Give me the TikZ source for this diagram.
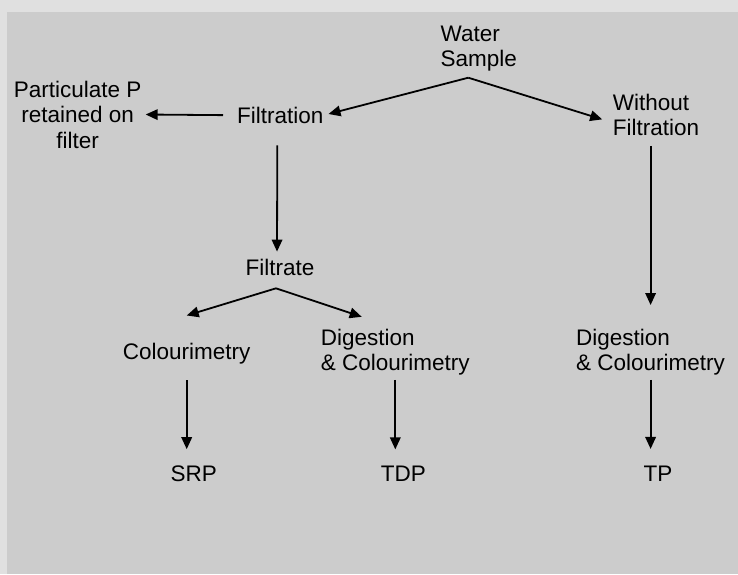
\documentclass[tikz,border=0pt]{standalone}
\usepackage{fontspec}
\setmainfont{Liberation Sans}
\usetikzlibrary{arrows.meta}
\definecolor{framegray}{RGB}{224,224,224}
\definecolor{panelgray}{RGB}{204,204,204}

\begin{document}
\begin{tikzpicture}[
  x=1pt, y=-1pt,
  txt/.style={inner sep=0pt, font=\fontsize{22.5}{25.5}\selectfont},
  ltxt/.style={txt, align=left, anchor=north west},
  arr/.style={-{Triangle[length=12pt,width=10.5pt]}, line width=1.8pt}
]
  % --- background ---
  \useasboundingbox (0,0) rectangle (738,574);
  \fill[framegray] (0,0) rectangle (738,574);
  \fill[panelgray] (7,12) rectangle (738,574);

  % --- sample and first split ---
  \node[ltxt] (water) at (440.5,25.5) {Water\\Sample};
  \node[txt, anchor=base west] (filt) at (237,123.3) {Filtration};
  \node[ltxt] (nofilt) at (612.7,93.8) {Without\\Filtration};
  \node[txt, align=center, anchor=north] (part) at (77.7,80.5)
    {Particulate P\\retained on\\filter};
  \coordinate (wsplit) at (468.3,77.7);

  \draw[arr, shorten >=5pt]  (wsplit) -- (filt.east);
  \draw[arr, shorten >=11pt] (wsplit) -- (nofilt.190);
  \draw[arr, shorten <=14pt, shorten >=4pt] (filt.west) -- (part.east);

  % --- filtrate branch ---
  \node[txt, anchor=base] (filtrate) at (280,275.7) {Filtrate};
  \draw[arr, shorten <=21.7pt, shorten >=7.6pt]
    ([xshift=-3pt]filt.south) -- ([xshift=-3pt]filtrate.north);
  \coordinate (fsplit) at (276,288.3);

  \node[txt, anchor=base] (colour) at (186.7,359) {Colourimetry};
  \node[ltxt] (digest) at (320.7,328.8) {Digestion\\\& Colourimetry};
  \draw[arr] (fsplit) -- ([yshift=27pt]colour.north);
  \draw[arr] (fsplit) -- ([xshift=41pt,yshift=12pt]digest.north west);

  \node[txt, anchor=base] (srp) at (193.7,481) {SRP};
  \node[txt, anchor=base] (tdp) at (403.3,481.5) {TDP};
  \draw[arr, shorten <=16.3pt, shorten >=15.9pt] (colour.south) -- (colour.south |- srp.north);
  \draw[arr, shorten <=4.3pt, shorten >=16.4pt] (digest.south) -- (digest.south |- tdp.north);

  % --- unfiltered branch ---
  \node[ltxt] (digest2) at (576,328.8) {Digestion\\\& Colourimetry};
  \node[txt, anchor=base] (tp) at (657.9,481) {TP};
  \draw[arr, shorten <=9.7pt, shorten >=23.8pt] (nofilt.south -| digest2.north) -- (digest2.north);
  \draw[arr, shorten <=4.3pt, shorten >=16.4pt] (digest2.south) -- (digest2.south |- tp.north);
\end{tikzpicture}
\end{document}
